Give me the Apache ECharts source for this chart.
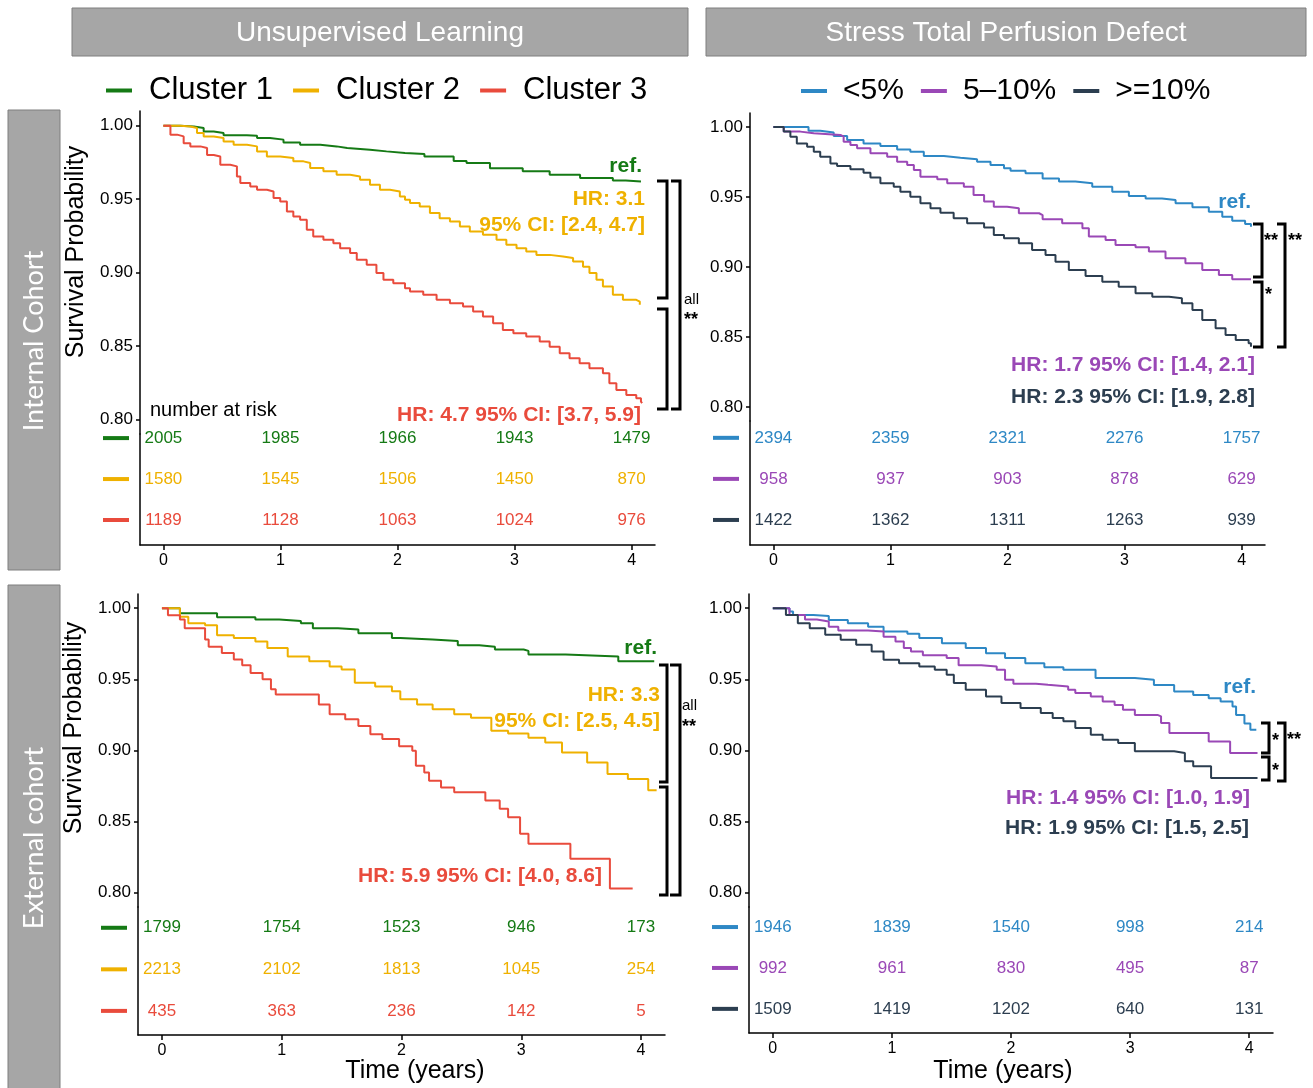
<!DOCTYPE html>
<html>
<head>
<meta charset="utf-8">
<script src="https://cdn.jsdelivr.net/npm/echarts@6/dist/echarts.min.js"></script>
<style>
  html, body { margin: 0; background: #fff; }
  #chart { width: 1313px; height: 1088px; }
</style>
</head>
<body>
<div id="chart"></div>
<script>
// ---- data ----
const clusterNames = ['Cluster 1', 'Cluster 2', 'Cluster 3'];
const tpdNames = ['<5%', '5–10%', '>=10%'];
const clusterColors = ['#157a15', '#efb100', '#e94b3c'];
const tpdColors = ['#2e88c5', '#9a48b6', '#2c3e50'];
const timeTicks = [0, 1, 2, 3, 4];
const probTicks = [0.80, 0.85, 0.90, 0.95, 1.00];

// internal cohort, unsupervised clusters: [years, survival]
const intCluster1 = [[0,1],[0.09,1],[0.145,0.9995],[0.26,0.9984],[0.344,0.9961],[0.43,0.995],[0.514,0.9934],[0.714,0.9932],[0.80,0.9916],[0.91,0.9905],[1.026,0.9886],[1.168,0.987],[1.34,0.9859],[1.48,0.9848],[1.57,0.9836],[1.765,0.9825],[1.906,0.9814],[2.064,0.9807],[2.23,0.979],[2.48,0.976],[2.59,0.9745],[2.79,0.971],[3.07,0.9689],[3.30,0.9666],[3.56,0.9643],[3.84,0.9627],[3.95,0.962],[4.08,0.962]];
const intCluster2 = [[0,1],[0.145,0.9995],[0.23,0.9984],[0.287,0.995],[0.344,0.9927],[0.43,0.9916],[0.514,0.9893],[0.60,0.987],[0.714,0.9859],[0.80,0.9825],[0.884,0.979],[0.998,0.978],[1.11,0.9757],[1.197,0.9746],[1.254,0.9711],[1.367,0.9689],[1.48,0.9666],[1.595,0.9654],[1.68,0.9632],[1.765,0.9598],[1.85,0.9564],[1.936,0.9552],[2.02,0.9518],[2.064,0.9495],[2.107,0.9473],[2.19,0.945],[2.277,0.9405],[2.36,0.937],[2.448,0.9348],[2.533,0.9313],[2.618,0.928],[2.73,0.9257],[2.846,0.9223],[2.93,0.9189],[3.017,0.9166],[3.10,0.9143],[3.187,0.912],[3.30,0.9109],[3.414,0.9098],[3.50,0.9075],[3.585,0.904],[3.64,0.8996],[3.70,0.895],[3.755,0.8904],[3.84,0.8848],[3.926,0.8814],[4.04,0.8802],[4.07,0.878]];
const intCluster3 = [[0,1],[0.06,0.9939],[0.117,0.9927],[0.173,0.988],[0.23,0.9859],[0.316,0.9848],[0.373,0.980],[0.43,0.979],[0.486,0.9734],[0.571,0.9723],[0.628,0.9654],[0.657,0.961],[0.742,0.9586],[0.80,0.9564],[0.884,0.9552],[0.941,0.9507],[0.998,0.9484],[1.055,0.9416],[1.11,0.9382],[1.168,0.9359],[1.225,0.9291],[1.28,0.9245],[1.367,0.9223],[1.452,0.920],[1.51,0.9166],[1.595,0.9132],[1.652,0.9086],[1.737,0.9052],[1.82,0.8996],[1.88,0.895],[1.964,0.8927],[2.064,0.8893],[2.107,0.887],[2.22,0.8848],[2.334,0.8814],[2.448,0.8791],[2.56,0.8768],[2.646,0.8734],[2.73,0.870],[2.817,0.8655],[2.90,0.8609],[2.99,0.8587],[3.10,0.8564],[3.215,0.853],[3.30,0.8495],[3.386,0.845],[3.47,0.8416],[3.556,0.8382],[3.64,0.8348],[3.755,0.8314],[3.81,0.8246],[3.87,0.820],[3.955,0.8166],[4.04,0.8143],[4.08,0.812],[4.09,0.811]];
const intClusterRisk = [[2005,1985,1966,1943,1479],[1580,1545,1506,1450,870],[1189,1128,1063,1024,976]];

// internal cohort, stress TPD
const intTpd1 = [[0,1],[0.30,0.9974],[0.40,0.996],[0.515,0.9936],[0.63,0.9907],[0.77,0.9883],[0.914,0.9864],[1.057,0.984],[1.17,0.9824],[1.285,0.9793],[1.456,0.978],[1.598,0.9769],[1.74,0.9752],[1.855,0.9729],[1.97,0.9705],[2.026,0.9688],[2.154,0.9669],[2.30,0.9633],[2.44,0.961],[2.58,0.9598],[2.724,0.9574],[2.895,0.9538],[3.037,0.9507],[3.18,0.949],[3.32,0.9479],[3.436,0.9455],[3.58,0.9426],[3.72,0.9395],[3.835,0.9359],[3.92,0.9331],[4.03,0.9307],[4.08,0.9288]];
const intTpd2 = [[0,1],[0.088,0.9967],[0.23,0.9955],[0.345,0.9943],[0.573,0.9931],[0.60,0.9895],[0.658,0.9871],[0.715,0.9848],[0.829,0.9812],[0.972,0.9788],[1.057,0.9752],[1.143,0.9729],[1.20,0.9693],[1.256,0.9645],[1.40,0.9626],[1.485,0.9598],[1.627,0.9574],[1.71,0.9514],[1.80,0.9467],[1.883,0.9431],[1.997,0.9419],[2.097,0.9384],[2.27,0.9371],[2.30,0.9341],[2.467,0.9312],[2.64,0.9276],[2.695,0.9217],[2.838,0.9193],[2.923,0.9157],[3.094,0.9141],[3.208,0.9110],[3.35,0.9062],[3.52,0.9026],[3.664,0.8979],[3.806,0.8943],[3.92,0.8912],[4.08,0.8912]];
const intTpd3 = [[0,1],[0.088,0.9967],[0.145,0.9931],[0.20,0.9883],[0.288,0.9859],[0.345,0.9824],[0.40,0.9788],[0.487,0.974],[0.544,0.9721],[0.658,0.9698],[0.77,0.9674],[0.829,0.964],[0.914,0.9598],[1.028,0.9574],[1.085,0.9538],[1.17,0.9502],[1.256,0.9455],[1.342,0.9419],[1.427,0.9388],[1.54,0.9348],[1.655,0.9312],[1.80,0.9283],[1.883,0.9229],[1.97,0.9205],[2.097,0.9169],[2.21,0.9121],[2.325,0.9086],[2.41,0.9038],[2.524,0.8979],[2.667,0.8936],[2.81,0.8895],[2.95,0.8859],[3.094,0.8812],[3.237,0.8788],[3.38,0.8776],[3.49,0.8741],[3.58,0.8693],[3.664,0.8621],[3.778,0.8562],[3.863,0.8514],[3.95,0.8479],[4.06,0.8455],[4.08,0.8431]];
const intTpdRisk = [[2394,2359,2321,2276,1757],[958,937,903,878,629],[1422,1362,1311,1263,939]];

// external cohort, unsupervised clusters
const extCluster1 = [[0,1],[0.15,0.9965],[0.46,0.9937],[0.78,0.992],[0.98,0.991],[1.16,0.9895],[1.26,0.986],[1.47,0.985],[1.64,0.9825],[1.92,0.979],[1.99,0.978],[2.26,0.977],[2.47,0.974],[2.65,0.973],[2.78,0.971],[3.02,0.970],[3.06,0.9674],[3.37,0.966],[3.81,0.9627],[4.11,0.9627]];
const extCluster2 = [[0,1],[0.15,0.994],[0.22,0.9895],[0.36,0.988],[0.46,0.981],[0.60,0.979],[0.78,0.9767],[0.88,0.972],[1.05,0.966],[1.23,0.9627],[1.40,0.959],[1.50,0.957],[1.61,0.9476],[1.78,0.945],[1.92,0.9417],[1.99,0.936],[2.13,0.9324],[2.26,0.929],[2.44,0.9254],[2.58,0.923],[2.75,0.9138],[2.89,0.912],[3.06,0.909],[3.20,0.9056],[3.34,0.8986],[3.55,0.8916],[3.72,0.8834],[3.89,0.880],[4.06,0.872],[4.13,0.872]];
const extCluster3 = [[0,1],[0.05,0.995],[0.15,0.992],[0.19,0.986],[0.36,0.978],[0.39,0.973],[0.50,0.9685],[0.60,0.964],[0.67,0.960],[0.74,0.9545],[0.84,0.950],[0.91,0.943],[0.95,0.9394],[1.31,0.9324],[1.40,0.9254],[1.53,0.922],[1.64,0.9172],[1.74,0.9114],[1.84,0.908],[1.98,0.903],[2.09,0.8998],[2.12,0.8893],[2.19,0.8846],[2.23,0.8788],[2.33,0.874],[2.44,0.8706],[2.70,0.8648],[2.82,0.859],[2.89,0.853],[2.99,0.8415],[3.06,0.8345],[3.41,0.824],[3.74,0.803],[3.93,0.803]];
const extClusterRisk = [[1799,1754,1523,946,173],[2213,2102,1813,1045,254],[435,363,236,142,5]];

// external cohort, stress TPD
const extTpd1 = [[0,1],[0.14,0.9977],[0.17,0.9953],[0.34,0.9946],[0.47,0.9918],[0.63,0.9895],[0.80,0.987],[0.93,0.9836],[1.13,0.982],[1.23,0.979],[1.42,0.9754],[1.62,0.972],[1.79,0.9684],[1.95,0.965],[2.12,0.9614],[2.28,0.9586],[2.44,0.9567],[2.71,0.951],[3.04,0.9497],[3.20,0.946],[3.37,0.9415],[3.53,0.939],[3.66,0.9368],[3.76,0.9345],[3.86,0.931],[3.89,0.925],[3.96,0.919],[4.01,0.9146],[4.06,0.9146]];
const extTpd2 = [[0,1],[0.11,1],[0.14,0.9953],[0.27,0.992],[0.37,0.9906],[0.47,0.987],[0.55,0.9843],[0.80,0.9836],[0.93,0.980],[1.03,0.9766],[1.10,0.972],[1.16,0.9696],[1.26,0.967],[1.46,0.965],[1.56,0.960],[1.75,0.959],[1.88,0.9567],[1.95,0.9497],[2.02,0.947],[2.21,0.9462],[2.31,0.945],[2.48,0.9427],[2.54,0.9404],[2.67,0.938],[2.77,0.9345],[2.87,0.932],[2.94,0.9287],[3.04,0.925],[3.23,0.924],[3.26,0.9193],[3.33,0.9123],[3.66,0.9064],[3.84,0.8982],[4.07,0.8982]];
const extTpd3 = [[0,1],[0.11,0.9953],[0.21,0.9895],[0.31,0.986],[0.44,0.9813],[0.57,0.9778],[0.70,0.9743],[0.83,0.9696],[0.93,0.9637],[1.06,0.9614],[1.23,0.959],[1.36,0.9567],[1.46,0.9532],[1.52,0.9474],[1.62,0.9427],[1.79,0.938],[1.92,0.9333],[2.08,0.9298],[2.25,0.9263],[2.35,0.9228],[2.44,0.9205],[2.54,0.9158],[2.67,0.9111],[2.77,0.9076],[2.90,0.9053],[3.04,0.8994],[3.37,0.8982],[3.46,0.8924],[3.53,0.8889],[3.68,0.8807],[4.07,0.8807]];
const extTpdRisk = [[1946,1839,1540,998,214],[992,961,830,495,87],[1509,1419,1202,640,131]];

// ---- layout ----
const FONT = '"Liberation Sans", Arial, Helvetica, sans-serif';
const panels = [
  { curves: [intCluster1, intCluster2, intCluster3], risk: intClusterRisk, names: clusterNames, colors: clusterColors,
    surv: { left: 140, top: 111, width: 515, height: 323 }, table: { left: 140, top: 434, width: 515, height: 111 }, rows: [0.39, 3.1] },
  { curves: [intTpd1, intTpd2, intTpd3], risk: intTpdRisk, names: tpdNames, colors: tpdColors,
    surv: { left: 750, top: 113, width: 515, height: 308 }, table: { left: 750, top: 421, width: 515, height: 124 }, rows: [0.39, 3.41] },
  { curves: [extCluster1, extCluster2, extCluster3], risk: extClusterRisk, names: clusterNames, colors: clusterColors,
    surv: { left: 138, top: 594, width: 527, height: 313 }, table: { left: 138, top: 907, width: 527, height: 128 }, rows: [0.42, 3.5] },
  { curves: [extTpd1, extTpd2, extTpd3], risk: extTpdRisk, names: tpdNames, colors: tpdColors,
    surv: { left: 749, top: 594, width: 524, height: 313 }, table: { left: 749, top: 907, width: 524, height: 126 }, rows: [0.41, 3.49] }
];

const axisLine = { show: true, onZero: false, lineStyle: { color: '#000', width: 1.5 } };
const grid = [], xAxis = [], yAxis = [], series = [];

panels.forEach((p, i) => {
  const gs = grid.length;
  grid.push(Object.assign({ containLabel: false }, p.surv));
  grid.push(Object.assign({ containLabel: false }, p.table));

  xAxis.push({ gridIndex: gs, type: 'value', min: -0.2, max: 4.2, show: false });
  yAxis.push({
    gridIndex: gs, type: 'value', min: 0.79, max: 1.01,
    axisLine: axisLine,
    axisTick: { show: true, customValues: probTicks, length: 4, lineStyle: { color: '#000', width: 1.5 } },
    axisLabel: { customValues: probTicks, formatter: v => v.toFixed(2), fontSize: 17, color: '#000', fontFamily: FONT, margin: 7 },
    splitLine: { show: false }
  });

  xAxis.push({
    gridIndex: gs + 1, type: 'value', min: -0.2, max: 4.2,
    axisLine: axisLine,
    axisTick: { show: true, customValues: timeTicks, length: 5, lineStyle: { color: '#000', width: 1.5 } },
    axisLabel: { customValues: timeTicks, fontSize: 16, color: '#000', fontFamily: FONT, margin: 8 },
    splitLine: { show: false }
  });
  const rich = {};
  p.colors.forEach((c, k) => { rich['d' + k] = { width: 26, height: 4, backgroundColor: c }; });
  yAxis.push({
    gridIndex: gs + 1, type: 'value', min: p.rows[0], max: p.rows[1],
    axisLine: axisLine,
    axisTick: { show: false },
    axisLabel: { customValues: [1, 2, 3], formatter: v => '{d' + (3 - v) + '|}', rich: rich, margin: 11 },
    splitLine: { show: false }
  });

  p.curves.forEach((curve, k) => {
    series.push({
      type: 'line', name: p.names[k], xAxisIndex: gs, yAxisIndex: gs,
      data: curve, step: 'end', showSymbol: false, symbol: 'none',
      color: p.colors[k], lineStyle: { width: 2, color: p.colors[k] }, silent: true
    });
  });
  p.risk.forEach((row, k) => {
    series.push({
      type: 'scatter', name: 'risk ' + i + k, xAxisIndex: gs + 1, yAxisIndex: gs + 1,
      symbolSize: 0, silent: true,
      itemStyle: { opacity: 1, color: p.colors[k] },
      data: row.map((n, j) => [timeTicks[j], 3 - k, n]),
      label: { show: true, position: 'inside', formatter: q => q.value[2], color: p.colors[k], opacity: 1,
        textBorderWidth: 0, fontSize: 17, fontFamily: FONT }
    });
  });
});

// ---- annotations ----
function txt(text, x, y, o) {
  o = o || {};
  return {
    type: 'text', x: x, y: y, rotation: o.rotation || 0, silent: true,
    style: {
      text: text, fill: o.color || '#000',
      font: (o.bold ? 'bold ' : '') + (o.size || 21) + 'px ' + (o.family || FONT),
      textAlign: o.align || 'right', align: o.align || 'right',
      textVerticalAlign: 'middle', verticalAlign: 'middle'
    }
  };
}
function bracket(xl, xr, y1, y2) {
  return { type: 'polyline', silent: true, shape: { points: [[xl, y1], [xr, y1], [xr, y2], [xl, y2]] },
    style: { stroke: '#000', lineWidth: 3, fill: null } };
}
function box(x, y, w, h) {
  return { type: 'rect', silent: true, shape: { x: x, y: y, width: w, height: h },
    style: { fill: '#a6a6a6', stroke: '#7f7f7f', lineWidth: 1 } };
}

const graphic = [
  box(72, 8, 616, 48), txt('Unsupervised Learning', 380, 33, { color: '#fff', size: 28, align: 'center' }),
  box(706, 8, 600, 48), txt('Stress Total Perfusion Defect', 1006, 33, { color: '#fff', size: 28, align: 'center' }),
  box(8, 110, 52, 460), txt('Internal Cohort', 34, 341, { color: '#fff', size: 27, align: 'center', rotation: Math.PI / 2, family: 'Lato, "Open Sans", sans-serif' }),
  box(8, 585, 52, 520), txt('External cohort', 34, 838, { color: '#fff', size: 27, align: 'center', rotation: Math.PI / 2, family: 'Lato, "Open Sans", sans-serif' }),
  txt('Survival Probability', 76, 252, { size: 25, align: 'center', rotation: Math.PI / 2 }),
  txt('Survival Probability', 74, 728, { size: 25, align: 'center', rotation: Math.PI / 2 }),
  txt('Time (years)', 415, 1071, { size: 25, align: 'center' }),
  txt('Time (years)', 1003, 1071, { size: 25, align: 'center' }),
  txt('number at risk', 150, 410, { size: 20, align: 'left' }),

  // internal / clusters
  txt('ref.', 642, 166, { bold: true, color: clusterColors[0] }),
  txt('HR: 3.1', 645, 199, { bold: true, color: clusterColors[1] }),
  txt('95% CI: [2.4, 4.7]', 645, 225, { bold: true, color: clusterColors[1] }),
  txt('HR: 4.7 95% CI: [3.7, 5.9]', 641, 415, { bold: true, color: clusterColors[2] }),
  bracket(657, 667, 181, 298), bracket(657, 667, 309, 409), bracket(671, 680, 181, 409),
  txt('all', 684, 300, { size: 15, align: 'left' }),
  txt('**', 684, 320, { size: 18, bold: true, align: 'left' }),

  // internal / TPD
  txt('ref.', 1251, 202, { bold: true, color: tpdColors[0] }),
  txt('HR: 1.7 95% CI: [1.4, 2.1]', 1255, 365, { bold: true, color: tpdColors[1] }),
  txt('HR: 2.3 95% CI: [1.9, 2.8]', 1255, 397, { bold: true, color: tpdColors[2] }),
  bracket(1253, 1262, 224, 277), bracket(1253, 1262, 282, 347), bracket(1277, 1285, 224, 347),
  txt('**', 1264, 241, { size: 18, bold: true, align: 'left' }),
  txt('*', 1265, 295, { size: 18, bold: true, align: 'left' }),
  txt('**', 1288, 241, { size: 18, bold: true, align: 'left' }),

  // external / clusters
  txt('ref.', 657, 648, { bold: true, color: clusterColors[0] }),
  txt('HR: 3.3', 660, 695, { bold: true, color: clusterColors[1] }),
  txt('95% CI: [2.5, 4.5]', 660, 721, { bold: true, color: clusterColors[1] }),
  txt('HR: 5.9 95% CI: [4.0, 8.6]', 602, 876, { bold: true, color: clusterColors[2] }),
  bracket(659, 667, 665, 782), bracket(659, 667, 787, 895), bracket(670, 680, 665, 895),
  txt('all', 682, 706, { size: 15, align: 'left' }),
  txt('**', 682, 727, { size: 18, bold: true, align: 'left' }),

  // external / TPD
  txt('ref.', 1256, 687, { bold: true, color: tpdColors[0] }),
  txt('HR: 1.4 95% CI: [1.0, 1.9]', 1250, 798, { bold: true, color: tpdColors[1] }),
  txt('HR: 1.9 95% CI: [1.5, 2.5]', 1249, 828, { bold: true, color: tpdColors[2] }),
  bracket(1261, 1269, 723, 753), bracket(1261, 1269, 757, 780), bracket(1277, 1285, 723, 781),
  txt('*', 1272, 741, { size: 18, bold: true, align: 'left' }),
  txt('*', 1272, 771, { size: 18, bold: true, align: 'left' }),
  txt('**', 1287, 740, { size: 18, bold: true, align: 'left' })
];

const legendBase = {
  icon: 'rect', itemWidth: 26, itemHeight: 4, top: 70,
  selectedMode: false
};

const chart = echarts.init(document.getElementById('chart'));
chart.setOption({
  animation: false,
  backgroundColor: '#fff',
  grid: grid,
  xAxis: xAxis,
  yAxis: yAxis,
  legend: [
    Object.assign({}, legendBase, { data: clusterNames, left: 101, itemGap: 20,
      textStyle: { fontSize: 31, color: '#000', fontFamily: FONT, padding: [0, 0, 0, 12] } }),
    Object.assign({}, legendBase, { data: tpdNames, left: 796, itemGap: 17, top: 71,
      textStyle: { fontSize: 30, color: '#000', fontFamily: FONT, padding: [0, 0, 0, 11] } })
  ],
  series: series,
  graphic: graphic
});
</script>
</body>
</html>
